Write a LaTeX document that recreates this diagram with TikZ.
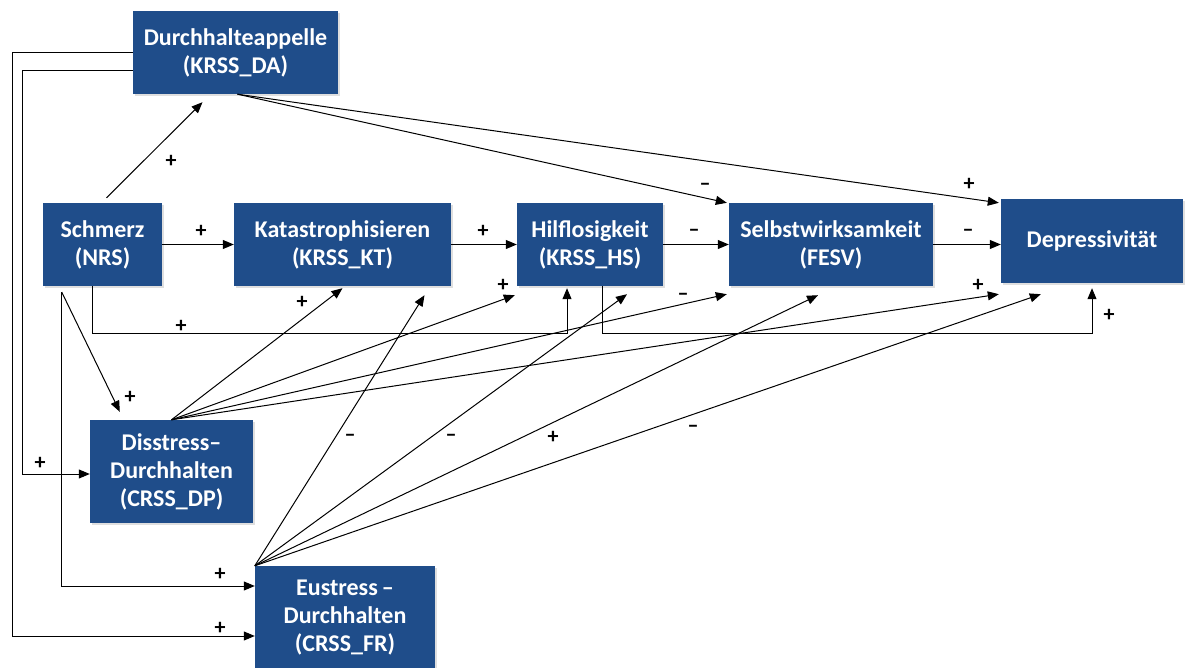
\documentclass[tikz,border=0pt]{standalone}
\usepackage{fontspec}
\setmainfont{Carlito}
\usetikzlibrary{arrows.meta,shadows}

\definecolor{boxblue}{RGB}{31,77,138}

\tikzset{
  var/.style={rectangle, fill=boxblue, text=white, align=center,
    font=\bfseries\fontsize{24}{28}\selectfont, inner sep=0pt,
    drop shadow={opacity=0.25, shadow xshift=2pt, shadow yshift=-2pt}},
  arr/.style={-{Triangle[length=11pt,width=9pt]}, line width=1pt},
  sgn/.style={font=\bfseries\fontsize{22}{22}\selectfont, inner sep=0pt},
}

\begin{document}
\begin{tikzpicture}[x=1pt, y=-1pt]
  \useasboundingbox (0,0) rectangle (1189,668);

  % variables
  \node[var, minimum width=205pt, minimum height=83pt] (da) at (235.5,52.5) {Durchhalteappelle\\(KRSS\_DA)};
  \node[var, minimum width=119pt, minimum height=83pt] (nrs) at (102.5,244.5) {Schmerz\\(NRS)};
  \node[var, minimum width=217pt, minimum height=83pt] (kt) at (342.5,244.5) {Katastrophisieren\\(KRSS\_KT)};
  \node[var, minimum width=146pt, minimum height=83pt] (hs) at (590,244.5) {Hilflosigkeit\\(KRSS\_HS)};
  \node[var, minimum width=204pt, minimum height=83pt] (fesv) at (831,244.5) {Selbstwirksamkeit\\(FESV)};
  \node[var, minimum width=182pt, minimum height=84pt] (dep) at (1092,241) {Depressivität};
  \node[var, minimum width=163pt, minimum height=103pt] (dp) at (171.5,471.5) {Disstress--\\Durchhalten\\(CRSS\_DP)};
  \node[var, minimum width=180pt, minimum height=104pt] (fr) at (345,618) {Eustress\,--\\Durchhalten\\(CRSS\_FR)};

  \coordinate (outer) at (12,0);
  \coordinate (inner) at (22,0);

  % main chain
  \draw[arr] ([xshift=4pt,yshift=5pt]nrs.north) -- ([xshift=-33pt,yshift=-8pt]da.south);
  \draw[arr] (nrs.east) -- (kt.west);
  \draw[arr] (kt.east) -- (hs.west);
  \draw[arr] (hs.east) -- (fesv.west);
  \draw[arr] (fesv.east) -- (fesv.east -| dep.west);
  \draw[arr] ([xshift=2pt]da.south) -- ([xshift=-2pt]fesv.north west);
  \draw[arr] ([xshift=2pt]da.south) -- ([xshift=-2pt,yshift=-4pt]dep.north west);

  % elbow paths
  \draw[arr] (da.west) -- (da.west -| outer) |- ([yshift=-18pt]fr.west);
  \draw[arr] ([yshift=-18.5pt]da.west) -- ([yshift=-18.5pt]da.west -| inner) |- ([yshift=-2.5pt]dp.west);
  \draw[arr] ([xshift=19pt,yshift=-6pt]nrs.south west) |- ([yshift=32pt]fr.west);
  \draw[arr] ([xshift=19pt,yshift=-6pt]nrs.south west) -- ([xshift=30pt,yshift=8pt]dp.north west);
  \draw[arr] ([xshift=-10pt]nrs.south) -- ++(0,47) -| ([xshift=-23pt,yshift=-2pt]hs.south);
  \draw[arr] ([xshift=12pt]hs.south) -- ++(0,47) -| ([yshift=-5pt]dep.south);

  % from Disstress
  \draw[arr] (dp.north) -- ([yshift=-2pt]kt.south);
  \draw[arr] (dp.north) -- ([xshift=-2pt,yshift=-9pt]hs.south west);
  \draw[arr] (dp.north) -- ([xshift=-2pt,yshift=-8pt]fesv.south west);
  \draw[arr] (dp.north) -- ([xshift=-2pt,yshift=-11pt]dep.south west);

  % from Eustress
  \draw[arr] (fr.north west) -- ([xshift=82pt,yshift=-9pt]kt.south);
  \draw[arr] (fr.north west) -- ([xshift=37pt,yshift=-8pt]hs.south);
  \draw[arr] (fr.north west) -- ([xshift=-13pt,yshift=-9pt]fesv.south);
  \draw[arr] (fr.north west) -- ([xshift=40pt,yshift=-11pt]dep.south west);

  % signs
  \foreach \x/\y/\s [count=\i] in {171/161/+, 201/231/+, 483/231/+, 694/233/--, 968/233/--,
      705/187/--, 969/184/+, 220/628/+, 40/463/+, 220/574/+, 130/397/+, 181/326/+,
      1109/315/+, 302/302/+, 503/285/+, 683/297/--, 978/285/+,
      350/438/--, 451/438/--, 553/437/+, 693/429/--}
    \node[sgn] (sg\i) at (\x,\y) {\s};
\end{tikzpicture}
\end{document}
